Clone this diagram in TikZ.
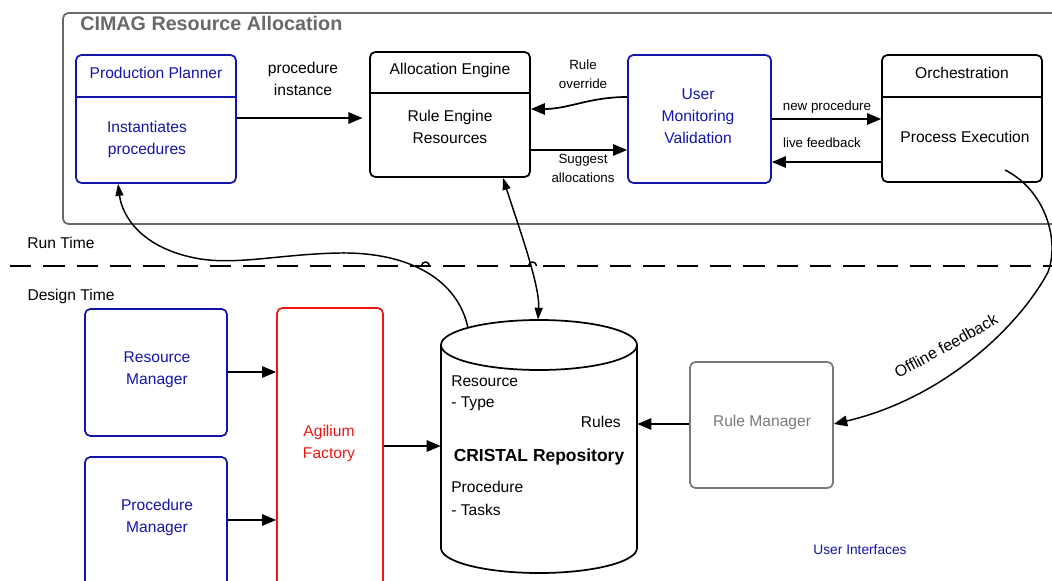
\documentclass[tikz,border=0pt]{standalone}
\usepackage{fontspec}
\setmainfont{Liberation Sans}
\usetikzlibrary{arrows.meta,fit}
\definecolor{ublue}{RGB}{20,20,170}
\definecolor{ared}{RGB}{240,20,20}
\definecolor{ggray}{RGB}{105,105,105}
\definecolor{rmgray}{RGB}{120,120,120}
\begin{document}
\begin{tikzpicture}[x=0.75pt,y=-0.75pt,
  box/.style={draw, rounded corners=4pt, line width=1.3pt, inner sep=0pt},
  divider/.style={line width=1.3pt},
  txt/.style={inner sep=0pt, font=\fontsize{11.7}{16.5}\selectfont, align=center},
  lbl/.style={inner sep=0pt, font=\fontsize{10}{14.2}\selectfont, align=center},
  conn/.style={line width=1.3pt, -{Triangle[length=10.5pt,width=8.5pt]}},
  curv/.style={line width=1.1pt},
  hop/.style={line width=1.1pt},
  dashline/.style={line width=1.6pt, dash pattern=on 16pt off 9pt}]
\useasboundingbox (0,0) rectangle (1052,581);
\clip (0,0) rectangle (1052,581);

% group frame
\node[box, draw=ggray, fit={(63,13) (1070,224)}] (grp) {};
\node[inner sep=0pt, anchor=west, text=ggray, font=\fontsize{14.8}{17}\selectfont\bfseries] (ttl) at (80,23) {CIMAG Resource Allocation};

% Production Planner
\node[box, draw=ublue, fit={(76,55) (236,183)}] (pp) {};
\draw[divider, ublue] (pp.west |- 0,97) -- (pp.east |- 0,97);
\node[txt, text=ublue] (ppt) at (156,73) {Production Planner};
\node[txt, text=ublue] (ppb) at (147,139.5) {Instantiates\\procedures};

% Allocation Engine
\node[box, fit={(370,52) (530,177)}] (ae) {};
\draw[divider] (ae.west |- 0,93) -- (ae.east |- 0,93);
\node[txt] (aet) at (450,70) {Allocation Engine};
\node[txt] (aeb) at (450,126.5) {Rule Engine\\Resources};

% User Monitoring Validation
\node[box, draw=ublue, fit={(628,55) (771,183)}] (um) {};
\node[txt, text=ublue] (umt) at (698,116) {User\\Monitoring\\Validation};

% Orchestration
\node[box, fit={(882,55) (1042,182)}] (orc) {};
\draw[divider] (orc.west |- 0,97) -- (orc.east |- 0,97);
\node[txt] (orct) at (962,73) {Orchestration};
\node[txt] (orcb) at (965,137) {Process Execution};

% top labels
\node[txt] (lpi) at (303,79) {procedure\\instance};
\node[lbl] (lro) at (583,74.5) {Rule\\override};
\node[lbl] (lsa) at (583,168.5) {Suggest\\allocations};
\node[lbl] (lnp) at (827,107) {new procedure};
\node[lbl] (llf) at (822,143) {live feedback};

% top connectors
\draw[conn, shorten >=5pt] (pp.east |- 0,118) -- (ae.west |- 0,118);
\draw[conn] (um.west |- 0,97) to[out=180,in=0] (ae.east |- 0,109);
\draw[conn] (ae.east |- 0,150) -- (um.west |- 0,150);
\draw[conn] (um.east |- 0,119) -- (orc.west |- 0,119);
\draw[conn] (orc.west |- 0,162) -- (um.east |- 0,162);

% run/design time
\node[txt] (rt) at (61,243) {Run Time};
\node[txt] (dt) at (71,296) {Design Time};
\draw[dashline] (10,266) -- (1052,266);

% Repository cylinder
\node[inner sep=0pt, fit={(441,320) (637,573)}] (repo) {};
\draw[line width=1.3pt] (441,345) -- (441,548) arc[start angle=180, end angle=360, x radius=73.5pt, y radius=18.75pt] -- (637,345);
\draw[line width=1.3pt] (539,345) ellipse [x radius=73.5pt, y radius=18.75pt];
\node[txt, anchor=west] (r1) at (451,381) {Resource};
\node[txt, anchor=west] (r2) at (451,404) {- Type};
\node[txt, anchor=east] (r3) at (621,422) {Rules};
\node[inner sep=0pt, font=\fontsize{13.1}{16}\selectfont\bfseries] (r4) at (539,457) {CRISTAL Repository};
\node[txt, anchor=west] (r5) at (451,487) {Procedure};
\node[txt, anchor=west] (r6) at (451,510) {- Tasks};

% design-time boxes
\node[box, draw=ublue, fit={(85,309) (227,436)}] (resm) {};
\node[txt, text=ublue] (resmt) at (157,369.5) {Resource\\Manager};
\node[box, draw=ublue, fit={(85,457) (227,600)}] (prom) {};
\node[txt, text=ublue] (promt) at (157,517.5) {Procedure\\Manager};
\node[box, draw=ared, fit={(277,308) (383,600)}] (agi) {};
\node[txt, text=ared] (agit) at (329,443) {Agilium\\Factory};

\node[box, draw=rmgray, fit={(690,362) (833,488)}] (rm) {};
\node[txt, text=rmgray] (rmt) at (762,422) {Rule Manager};

\node[inner sep=0pt, text=ublue, font=\fontsize{10.3}{12}\selectfont] (ui) at (860,550) {User Interfaces};

% design-time connectors
\draw[conn] (resm.east |- 0,372) -- (agi.west |- 0,372);
\draw[conn] (prom.east |- 0,520) -- (agi.west |- 0,520);
\draw[conn] (agi.east |- 0,446) -- (repo.west |- 0,446);
\draw[conn] (rm.west |- 0,424) -- (repo.east |- 0,424);

% cross-level connectors
\coordinate (repoTL) at (468,328);
\coordinate (pexec) at (1005,170);
\draw[curv, -{Triangle[length=9pt,width=6pt]}] (repoTL) .. controls (458,280) and (410,252) .. (340,253)
   .. controls (280,254) and (235,266) .. (195,258)
   .. controls (140,247) and (122,215) .. (118,0 |- pp.south);
\draw[curv, {Triangle[length=9pt,width=6pt]}-{Triangle[length=9pt,width=6pt]}] (503,0 |- ae.south) .. controls (518,225) and (540,285) .. (538,0 |- repo.north);
\draw[curv, -{Triangle[length=10pt,width=8pt]}] (pexec) .. controls (1045,190) and (1060,240) .. (1048,272)
   .. controls (1020,325) and (945,398) .. (rm.east |- 0,424);
\node[inner sep=0pt, rotate=29, font=\fontsize{12}{14}\selectfont] (lof) at (946,346) {Offline feedback};

% line hops
\draw[hop] (421.5,266) arc[start angle=180, end angle=0, radius=3pt];
\draw[hop] (528.5,266) arc[start angle=180, end angle=0, radius=3pt];
\end{tikzpicture}
\end{document}
